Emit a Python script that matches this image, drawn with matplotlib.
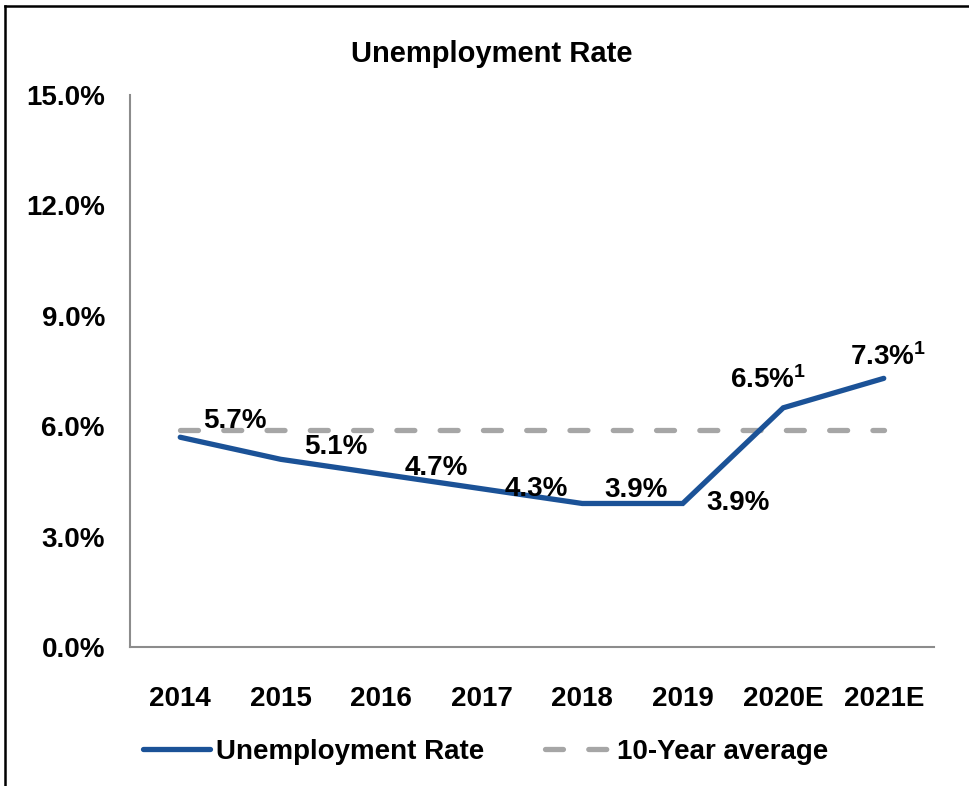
import matplotlib
matplotlib.use("Agg")
import matplotlib.pyplot as plt
from matplotlib.lines import Line2D

plt.rcParams['font.family'] = ['Liberation Sans', 'DejaVu Sans']
plt.rcParams['font.weight'] = 'bold'
plt.rcParams['mathtext.default'] = 'regular'

years = ['2014', '2015', '2016', '2017', '2018', '2019', '2020E', '2021E']
rate = [5.7, 5.1, 4.7, 4.3, 3.9, 3.9, 6.5, 7.3]
avg_10yr = 5.9
labels = ['5.7%', '5.1%', '4.7%', '4.3%', '3.9%', '3.9%', '6.5%$^{1}$', '7.3%$^{1}$']

# label offsets in pixels (dx, dy)
offsets = [(55, 16), (55, 12), (55, 6), (55, 0), (54, 13), (55, 0), (-15, 28), (4, 21)]

blue = '#1B5297'
grey = '#A6A6A6'

fig = plt.figure(figsize=(9.69, 7.86), dpi=100)
ax = fig.add_axes([130 / 969, 1 - 647 / 786, 804 / 969, 552 / 786])

x = list(range(len(years)))
ax.plot(x, rate, color=blue, lw=3.8, solid_capstyle='round', solid_joinstyle='miter',
        label='Unemployment Rate', zorder=3)
ax.plot(x, [avg_10yr] * len(x), color=grey, lw=3.8, dashes=(3.4, 4.8),
        dash_capstyle='round', label='10-Year average', zorder=2)

for xi, yi, lab, (dx, dy) in zip(x, rate, labels, offsets):
    ax.annotate(lab, (xi, yi), xytext=(dx, dy), textcoords='offset pixels',
                ha='center', va='center', fontsize=20, fontweight='bold', zorder=4)

ax.set_xlim(-0.5, len(years) - 0.5)
ax.set_ylim(0, 15)
ax.set_yticks([0, 3, 6, 9, 12, 15])
ax.set_yticklabels(['%.1f%%' % v for v in [0, 3, 6, 9, 12, 15]])
ax.set_xticks(x)
ax.set_xticklabels(years)
ax.tick_params(axis='both', length=0, labelsize=20)
ax.tick_params(axis='y', pad=18)
ax.tick_params(axis='x', pad=28)

for s in ['top', 'right']:
    ax.spines[s].set_visible(False)
for s in ['left', 'bottom']:
    ax.spines[s].set_color('#8C8C8C')
    ax.spines[s].set_linewidth(1.5)

fig.text(492 / 969, 1 - 54 / 786, 'Unemployment Rate', ha='center', va='center',
         fontsize=21, fontweight='bold')

fig.legend(loc='center', bbox_to_anchor=(486 / 969, 1 - 752 / 786), ncol=2,
           frameon=False, fontsize=20, handlelength=2.4, handletextpad=0.2,
           columnspacing=2.2)

# frame around the chart (left and top edges visible)
fig.add_artist(Line2D([5 / 969, 5 / 969], [0, 1 - 6 / 786], color='black', lw=1.8,
                      transform=fig.transFigure))
fig.add_artist(Line2D([5 / 969, 1], [1 - 6 / 786, 1 - 6 / 786], color='black', lw=1.8,
                      transform=fig.transFigure))

fig.savefig('out.png', dpi=100)
